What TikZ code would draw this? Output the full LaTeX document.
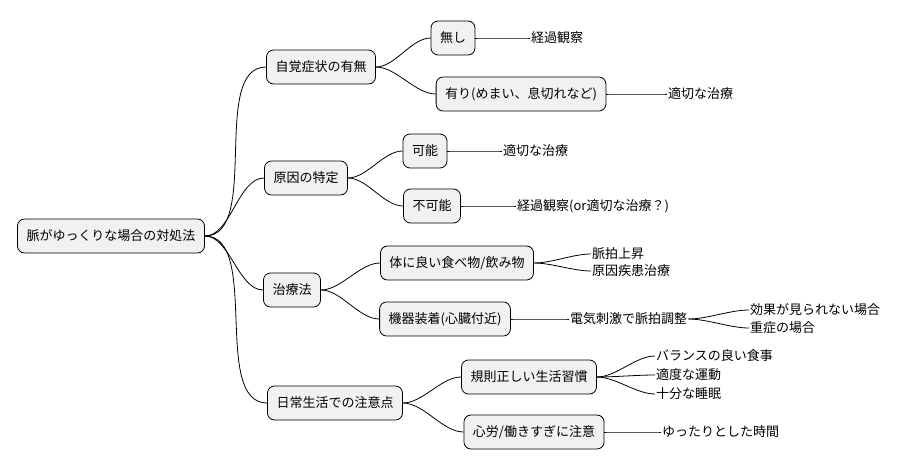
\documentclass[tikz,border=0pt]{standalone}
\usepackage{fontspec}
\setmainfont{Noto Sans CJK JP}
\usepackage{tikz}
\usetikzlibrary{positioning}
\definecolor{boxfill}{HTML}{F1F1F1}

\begin{document}
\begin{tikzpicture}[x=1pt,y=-1pt,
  font=\fontsize{13}{15}\selectfont,
  box/.style={draw, fill=boxfill, rounded corners=7pt, line width=0.8pt,
    inner xsep=9pt, minimum height=34pt},
  leaf/.style={inner sep=1pt, anchor=west},
  edge/.style={line width=0.8pt, out=0, in=180, looseness=0.8}]
  \useasboundingbox (0,0) rectangle (899,471);
  % Root and first level
  \node[box] (root) at (111,236) {脈がゆっくりな場合の対処法};
  \node[box] (jikaku) at (321,67) {自覚症状の有無};
  \node[box] (genin) at (306,178) {原因の特定};
  \node[box] (chiryo) at (292,290) {治療法};
  \node[box] (nichijo) at (335,403) {日常生活での注意点};
  % Second level
  \node[box] (nashi) at (453,38) {無し};
  \node[box] (ari) at (521,94) {有り(めまい、息切れなど)};
  \node[box] (kano) at (425,151) {可能};
  \node[box] (fukano) at (432,206) {不可能};
  \node[box] (shoku) at (457,263) {体に良い食べ物/飲み物};
  \node[box] (kiki) at (445,319) {機器装着(心臓付近)};
  \node[box] (kisoku) at (529,377) {規則正しい生活習慣};
  \node[box] (shinro) at (534,432) {心労/働きすぎに注意};
  % Leaves
  \node[leaf] (kansatsu1) at (530,38) {経過観察};
  \node[leaf] (tekisetsu1) at (667,94) {適切な治療};
  \node[leaf] (tekisetsu2) at (502,151) {適切な治療};
  \node[leaf] (kansatsu2) at (516,206) {経過観察(or適切な治療？)};
  \node[leaf] (myaku) at (591,254) {脈拍上昇};
  \node[leaf] (shikkan) at (591,271) {原因疾患治療};
  \node[leaf] (denki) at (569,319) {電気刺激で脈拍調整};
  \node[leaf] (koka) at (749,310) {効果が見られない場合};
  \node[leaf] (jusho) at (749,328) {重症の場合};
  \node[leaf] (balance) at (655,356) {バランスの良い食事};
  \node[leaf] (undo) at (655,375) {適度な運動};
  \node[leaf] (suimin) at (655,394) {十分な睡眠};
  \node[leaf] (yuttari) at (661,432) {ゆったりとした時間};
  % Connectors
  \foreach \a/\b in {root/jikaku, root/genin, root/chiryo, root/nichijo,
    jikaku/nashi, jikaku/ari, genin/kano, genin/fukano,
    chiryo/shoku, chiryo/kiki, nichijo/kisoku, nichijo/shinro,
    nashi/kansatsu1, ari/tekisetsu1, kano/tekisetsu2, fukano/kansatsu2,
    shoku/myaku, shoku/shikkan, kiki/denki, denki/koka, denki/jusho,
    kisoku/balance, kisoku/undo, kisoku/suimin, shinro/yuttari}
    \draw[edge] (\a.east) to (\b.west);
\end{tikzpicture}
\end{document}
